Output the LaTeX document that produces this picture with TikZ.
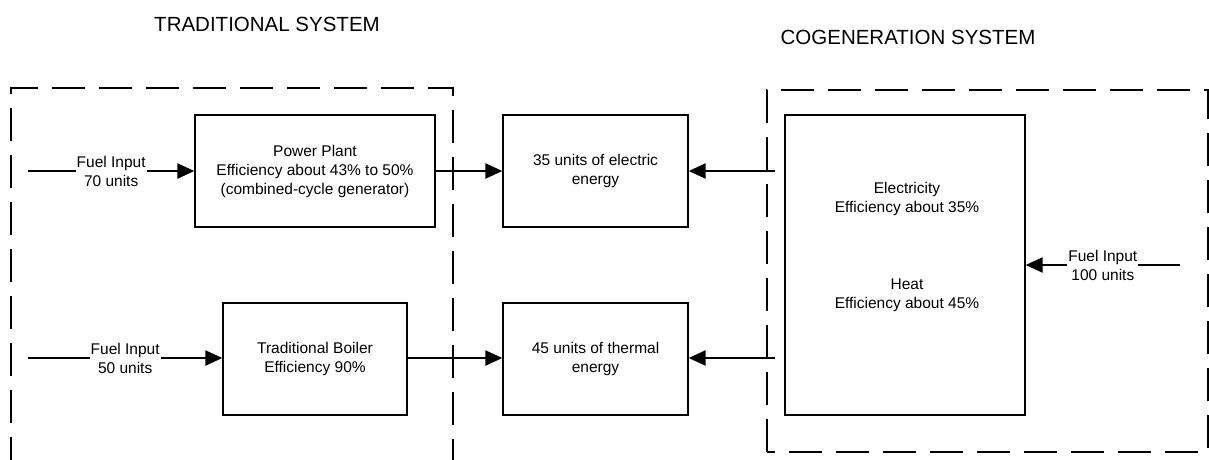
\documentclass[tikz,border=0pt]{standalone}
\usepackage{fontspec}
\setmainfont{Liberation Sans}
\usetikzlibrary{arrows.meta}
\begin{document}
\begin{tikzpicture}[x=1pt,y=-1pt,
  box/.style={draw,line width=1.3pt,minimum width=#1,minimum height=112pt,inner sep=0pt,
    align=center,font=\fontsize{15.5}{19}\selectfont},
  txt/.style={align=center,font=\fontsize{15.5}{19}\selectfont,inner sep=0pt},
  lbl/.style={fill=white,align=center,font=\fontsize{15.5}{19}\selectfont,inner sep=1pt},
  ttl/.style={font=\fontsize{20.5}{24}\selectfont,inner sep=0pt},
  arr/.style={line width=2.3pt,-{Triangle[length=17pt,width=15pt]}},
  sysbox/.style={line width=1.5pt,dash pattern=on 33pt off 14pt}]
\useasboundingbox (0,0) rectangle (1209,459);
\clip (0,0) rectangle (1209,459);
\fill[white] (0,0) rectangle (1209,459);
% titles
\node[ttl] (t1) at (267,24.5) {TRADITIONAL SYSTEM};
\node[ttl] (t2) at (908,37.5) {COGENERATION SYSTEM};
% system boundaries
\draw[sysbox] (11,470) -- (11,88) -- (453,88) -- (453,470);
\draw[sysbox] (767,452) -- (767,90) -- (1208,90) -- (1208,452) -- cycle;
% boxes
\node[box=240pt] (pp) at (315,171) {Power Plant\\Efficiency about 43\% to 50\%\\(combined-cycle generator)};
\node[box=184pt] (bo) at (315,359) {Traditional Boiler\\Efficiency 90\%};
\node[box=185pt] (el) at (595.5,171) {35 units of electric\\energy};
\node[box=185pt] (th) at (595.5,359) {45 units of thermal\\energy};
\node[draw,line width=1.3pt,minimum width=240pt,minimum height=300pt,inner sep=0pt] (cg) at (905,265) {};
\node[txt] (cge) at (907,198.5) {Electricity\\Efficiency about 35\%};
\node[txt] (cgh) at (907,295) {Heat\\Efficiency about 45\%};
% free ends
\coordinate (f1) at (28,171);
\coordinate (f2) at (28,358);
\coordinate (f3) at (1180,265);
\coordinate (c1) at (775,171);
\coordinate (c2) at (775,358);
% connectors
\draw[arr] (f1) -- (pp.west) node[lbl,midway] (l1) {Fuel Input\\70 units};
\draw[arr] (f2) -- (bo.west |- f2) node[lbl,midway] (l2) {Fuel Input\\50 units};
\draw[arr] (f3) -- (cg.east |- f3) node[lbl,midway] (l3) {Fuel Input\\100 units};
\draw[arr] (pp.east) -- (el.west);
\draw[arr] (bo.east |- f2) -- (th.west |- f2);
\draw[arr] (c1) -- (el.east);
\draw[arr] (c2) -- (th.east |- c2);
\end{tikzpicture}
\end{document}
